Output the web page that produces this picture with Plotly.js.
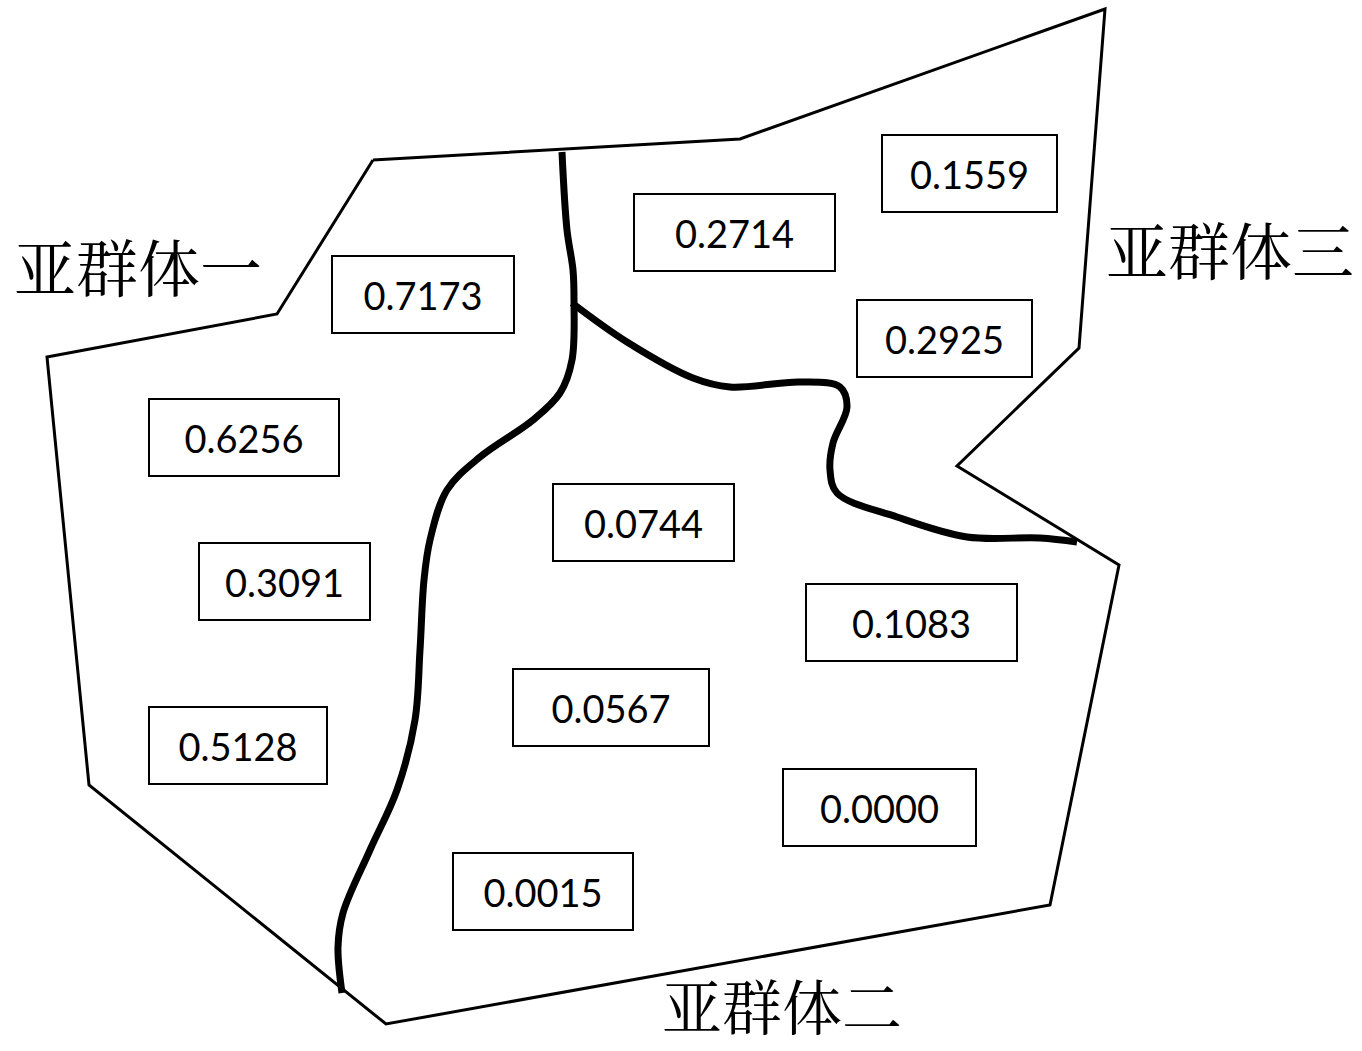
<!DOCTYPE html>
<html>
<head>
<meta charset="utf-8">
<script src="https://cdn.plot.ly/plotly-3.0.1.min.js"></script>
<style>html,body{margin:0;padding:0;background:#fff;}#chart{width:1362px;height:1051px;}</style>
</head>
<body>
<div id="chart"></div>
<script>
// ---- data ----
const values = ['0.7173','0.6256','0.3091','0.5128','0.2714','0.1559','0.2925','0.0744','0.1083','0.0567','0.0000','0.0015'];
const groupNames = ['亚群体一','亚群体三','亚群体二'];

// ---- layout geometry (pixel-like coordinate system) ----
const boxX = [423,244,284,238,734,969,944,643,911,611,879,543];
const boxY = [294,437,581,745,232,173,338,522,622,707,807,891];
const boxW = [184,192,173,180,203,177,177,183,213,198,195,182];
const boxH = 79;

const outlineX = [373,740,1105,1079,957,1119,1050,386,89,47,277,373];
const outlineY = [160,139,9,348,466,565,905,1024,785,357,314,160];

const div1X = [562,567,573,574,572,560,533,480,447,430,424,420,415,397,370,343,338,342];
const div1Y = [152,230,270,300,360,393,420,457,490,540,580,650,720,790,850,913,947,993];

const div2X = [572,627,693,730,800,840,847,833,830,837,897,967,1040,1077];
const div2Y = [303,342,378,387,382,387,407,443,470,493,517,537,538,542];

const labelX = [12,1104,660];
const labelY = [265,248,1004];
const labelSize = [62,62,60];

const traces = [
  {x: outlineX, y: outlineY, mode:'lines', line:{color:'#000', width:3}, hoverinfo:'skip'},
  {x: div1X, y: div1Y, mode:'lines', line:{color:'#000', width:7, shape:'spline', smoothing:1}, hoverinfo:'skip'},
  {x: div2X, y: div2Y, mode:'lines', line:{color:'#000', width:7, shape:'spline', smoothing:1}, hoverinfo:'skip'}
];

const annotations = [];
values.forEach((v,i)=>{
  annotations.push({
    x: boxX[i], y: boxY[i], xref:'x', yref:'y', text: v, showarrow:false,
    width: boxW[i]-4, height: boxH-4, borderpad:0, bordercolor:'#000', borderwidth:2,
    bgcolor:'#fff', xanchor:'center', yanchor:'middle',
    font:{family:'Lato, "Open Sans", sans-serif', size:38, color:'#000'}
  });
});
groupNames.forEach((g,i)=>{
  annotations.push({
    x: labelX[i], y: labelY[i], xref:'x', yref:'y', text: g, showarrow:false,
    xanchor:'left', yanchor:'middle',
    font:{family:'"Noto Serif CJK SC","Noto Sans CJK SC", sans-serif', size:labelSize[i], color:'#000'}
  });
});

const layout = {
  width:1362, height:1051,
  margin:{l:0,r:0,t:0,b:0},
  paper_bgcolor:'#fff', plot_bgcolor:'#fff',
  showlegend:false,
  xaxis:{range:[0,1362], visible:false, fixedrange:true},
  yaxis:{range:[1051,0], visible:false, fixedrange:true},
  annotations: annotations
};

Plotly.newPlot('chart', traces, layout, {staticPlot:true, displayModeBar:false});
</script>
</body>
</html>
